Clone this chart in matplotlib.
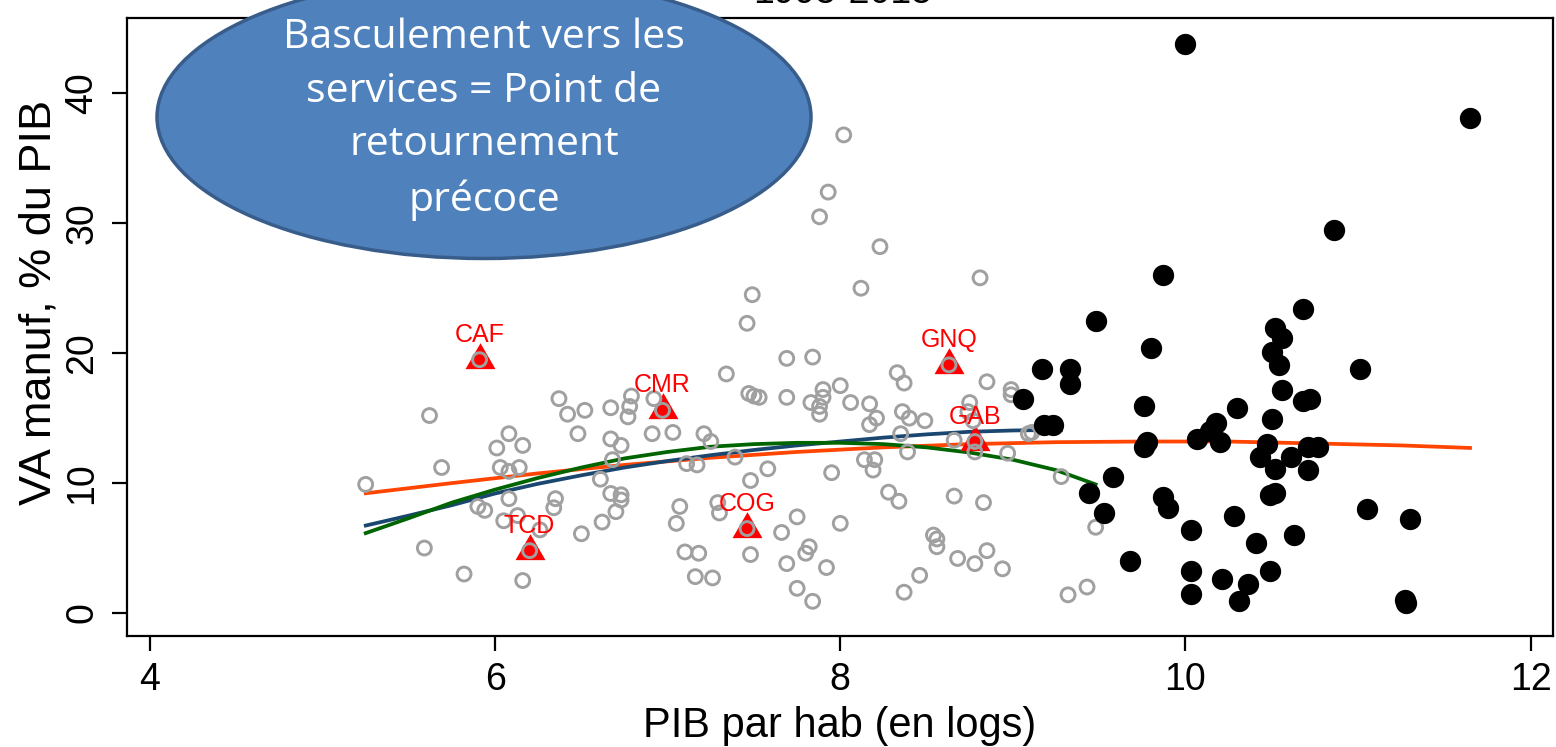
import matplotlib
matplotlib.use("Agg")
import matplotlib.pyplot as plt
from matplotlib.patches import Ellipse
import numpy as np

# ---------------- data ----------------
grey_x = [5.25, 5.59, 5.62, 5.69, 5.82, 5.90, 5.94, 5.91, 6.01, 6.03, 6.05, 6.08, 6.08, 6.08,
          6.13, 6.14, 6.16, 6.16, 6.20, 6.26, 6.34, 6.35, 6.37, 6.42, 6.48, 6.50, 6.52, 6.61,
          6.62, 6.67, 6.67, 6.67, 6.68, 6.70, 6.73, 6.73, 6.73, 6.77, 6.78, 6.79, 6.91, 6.92,
          6.97, 7.03, 7.05, 7.07, 7.10, 7.11, 7.16, 7.17, 7.18, 7.21, 7.25, 7.26, 7.29, 7.30,
          7.34, 7.39, 7.46, 7.46, 7.47, 7.48, 7.48, 7.49, 7.50, 7.53, 7.58, 7.66, 7.69, 7.69,
          7.69, 7.75, 7.75, 7.80, 7.82, 7.83, 7.84, 7.84, 7.88, 7.88, 7.88, 7.90, 7.90, 7.92,
          7.93, 7.95, 8.00, 8.00, 8.02, 8.06, 8.12, 8.14, 8.17, 8.17, 8.19, 8.20, 8.21, 8.23,
          8.28, 8.33, 8.34, 8.35, 8.36, 8.37, 8.37, 8.39, 8.40, 8.46, 8.49, 8.54, 8.56, 8.56,
          8.63, 8.66, 8.66, 8.68, 8.74, 8.75, 8.77, 8.78, 8.78, 8.78, 8.81, 8.83, 8.85, 8.85,
          8.94, 8.97, 8.99, 8.99, 9.09, 9.11, 9.28, 9.32, 9.43, 9.48]
grey_y = [9.9, 5.0, 15.2, 11.2, 3.0, 8.2, 7.9, 19.5, 12.7, 11.2, 7.1, 13.8, 10.9, 8.8,
          7.5, 11.2, 12.9, 2.5, 4.8, 6.4, 8.1, 8.8, 16.5, 15.3, 13.8, 6.1, 15.6, 10.3,
          7.0, 15.8, 13.4, 9.2, 11.8, 7.8, 12.9, 9.1, 8.7, 15.1, 15.9, 16.7, 13.8, 16.5,
          15.6, 13.9, 6.9, 8.2, 4.7, 11.5, 2.8, 11.4, 4.6, 13.8, 13.2, 2.7, 8.5, 7.7,
          18.4, 12.0, 22.3, 6.5, 16.9, 10.2, 4.5, 24.5, 16.7, 16.6, 11.1, 6.2, 19.6, 16.6,
          3.8, 7.4, 1.9, 4.6, 5.1, 16.2, 19.7, 0.9, 30.5, 15.9, 15.3, 17.2, 16.6, 3.5,
          32.4, 10.8, 17.5, 6.9, 36.8, 16.2, 25.0, 11.8, 16.1, 14.5, 11.0, 11.8, 15.0, 28.2,
          9.3, 18.5, 8.6, 13.8, 15.5, 17.7, 1.6, 12.4, 15.0, 2.9, 14.8, 6.0, 5.7, 5.1,
          19.1, 13.3, 9.0, 4.2, 15.5, 16.2, 14.8, 13.2, 12.4, 3.8, 25.8, 8.5, 17.8, 4.8,
          3.4, 12.3, 17.2, 16.8, 13.8, 13.9, 10.5, 1.4, 2.0, 6.6]

black_x = [9.06, 9.17, 9.18, 9.23, 9.33, 9.33, 9.44, 9.48, 9.53, 9.58, 9.68, 9.76, 9.76, 9.78,
           9.80, 9.87, 9.87, 9.90, 10.00, 10.03, 10.03, 10.03, 10.07, 10.14, 10.18, 10.20,
           10.21, 10.28, 10.30, 10.31, 10.36, 10.41, 10.43, 10.47, 10.49, 10.49, 10.50, 10.50,
           10.52, 10.52, 10.52, 10.54, 10.56, 10.56, 10.61, 10.63, 10.68, 10.68, 10.71, 10.71,
           10.72, 10.77, 10.86, 11.01, 11.05, 11.27, 11.28, 11.30, 11.65]
black_y = [16.5, 18.8, 14.5, 14.5, 18.8, 17.6, 9.2, 22.5, 7.7, 10.5, 4.0, 15.9, 12.8, 13.2,
           20.4, 26.0, 8.9, 8.1, 43.8, 6.4, 3.2, 1.5, 13.4, 14.0, 14.6, 13.2,
           2.6, 7.5, 15.8, 0.9, 2.2, 5.4, 12.0, 13.0, 9.1, 3.2, 20.1, 14.9,
           21.9, 11.1, 9.2, 19.1, 21.2, 17.2, 12.0, 6.0, 23.4, 16.3, 12.8, 11.0,
           16.5, 12.8, 29.5, 18.8, 8.0, 1.0, 0.8, 7.2, 38.1]

countries = ["CAF", "CMR", "TCD", "COG", "GNQ", "GAB"]
country_x = [5.91, 6.97, 6.20, 7.46, 8.63, 8.78]
country_y = [19.5, 15.6, 4.8, 6.5, 19.1, 13.2]

fit_all_x = [5.24, 5.75, 6.25, 6.75, 7.25, 7.75, 8.25, 8.75, 9.25, 9.75, 10.25, 10.75, 11.25, 11.66]
fit_all_y = [9.2, 10.0, 10.75, 11.4, 11.95, 12.4, 12.75, 13.0, 13.15, 13.2, 13.2, 13.05, 12.9, 12.7]
fit_dev_x = [5.24, 5.5, 5.75, 6.0, 6.25, 6.5, 6.75, 7.0, 7.25, 7.5, 7.75, 8.0, 8.25, 8.5,
             8.75, 9.0, 9.29]
fit_dev_y = [6.7, 7.5, 8.3, 9.2, 9.95, 10.6, 11.2, 11.7, 12.15, 12.55, 12.9, 13.2, 13.5, 13.75,
             13.95, 14.05, 14.1]
fit_quad_x = [5.24, 5.5, 5.75, 6.0, 6.25, 6.5, 6.75, 7.0, 7.25, 7.5, 7.75, 8.0, 8.25, 8.5,
              8.75, 9.0, 9.25, 9.49]
fit_quad_y = [6.1, 7.3, 8.5, 9.5, 10.4, 11.2, 11.9, 12.4, 12.8, 13.0, 13.1, 13.1, 13.0, 12.75,
              12.35, 11.8, 11.0, 9.85]

x_ticks = [4, 6, 8, 10, 12]
y_ticks = [0, 10, 20, 30, 40]
x_label = "PIB par hab (en logs)"
y_label = "VA manuf, % du PIB"
title = "1995-2015"
bubble_text = "Basculement vers les\nservices = Point de\nretournement\nprécoce"

# ---------------- figure ----------------
plt.rcParams['font.family'] = ['Liberation Sans', 'DejaVu Sans']
W, H = 1556, 747
fig = plt.figure(figsize=(W / 100, H / 100), dpi=100)
ax = fig.add_axes([127 / W, 1 - 636 / H, (1553 - 127) / W, (636 - 18) / H])

ax.plot(fit_all_x, fit_all_y, color='#FF4500', lw=2.7, zorder=2, solid_capstyle='butt')
ax.plot(fit_dev_x, fit_dev_y, color='#1A476F', lw=2.7, zorder=2, solid_capstyle='butt')
ax.plot(fit_quad_x, fit_quad_y, color='#006400', lw=2.7, zorder=2, solid_capstyle='butt')

tri = [(0, 1), (-0.866, -0.5), (0.866, -0.5)]
ax.scatter(country_x, country_y, marker=tri, s=620, color='red', linewidths=0, zorder=3)

ax.scatter(grey_x, grey_y, s=100, facecolors='none', edgecolors='#A0A0A0', linewidths=2.1, zorder=4)
ax.scatter(black_x, black_y, s=235, color='black', linewidths=0, zorder=4)

for name, cx, cy in zip(countries, country_x, country_y):
    ax.annotate(name, (cx, cy), xytext=(0, 18), textcoords='offset points',
                ha='center', va='center', color='red', fontsize=18, zorder=5)

ax.set_xlim(3.867, 12.13)
ax.set_ylim(-1.77, 45.8)
ax.set_xticks(x_ticks)
ax.set_yticks(y_ticks)
ax.tick_params(direction='out', length=11, width=1.6, labelsize=27, pad=8)
for lbl in ax.get_yticklabels():
    lbl.set_rotation(90)
    lbl.set_va('center')
for s in ax.spines.values():
    s.set_linewidth(1.6)

ax.set_xlabel(x_label, fontsize=30)
ax.set_ylabel(y_label, fontsize=32.5)
ax.xaxis.set_label_coords(0.5, -0.146)
ax.xaxis.label.set_va('center')
ax.yaxis.set_label_coords(-0.062, 0.539)
ax.yaxis.label.set_va('center')

fig.text(843 / W, 1 - 3 / H, title, ha='center', va='baseline', fontsize=27)

ell = Ellipse((484 / W, 1 - 117 / H), 654 / W, 283 / H, transform=fig.transFigure,
              facecolor='#4F81BD', edgecolor='#385D8A', linewidth=2.5, zorder=10)
fig.add_artist(ell)
fig.text(484 / W, 1 - 119 / H, bubble_text, ha='center', va='center', color='white',
         fontsize=29.5, family=['Open Sans', 'DejaVu Sans'], linespacing=1.44, zorder=11)

fig.savefig('out.png', dpi=100)
